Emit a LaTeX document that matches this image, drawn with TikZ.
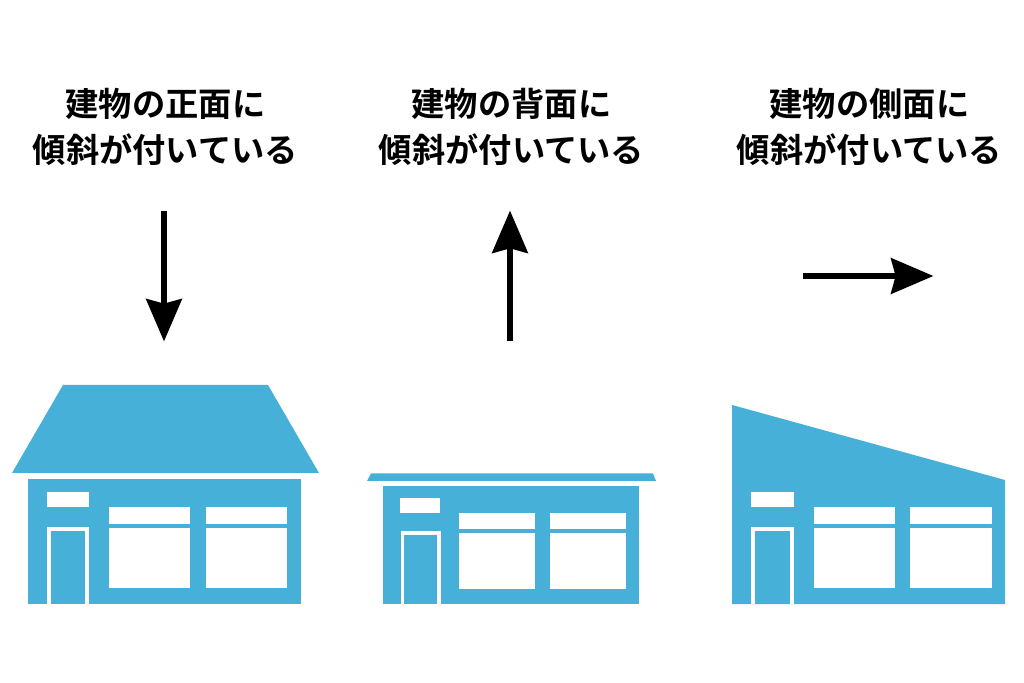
\documentclass[tikz,border=0pt]{standalone}
\usepackage{fontspec}
\setmainfont{Noto Sans CJK JP Bold}
\usetikzlibrary{arrows.meta,positioning}
\definecolor{housecol}{HTML}{47B0D9}
\tikzset{
  caption/.style={align=center,font=\fontsize{28.4}{39}\selectfont,inner sep=0pt},
  bigarrow/.style={line width=0.19cm,-{Stealth[length=1.27cm,width=1.06cm,inset=0.135cm]}},
  wall/.style={fill=housecol,draw=none},
  glass/.style={fill=white,draw=none}
}
\begin{document}
\begin{tikzpicture}[x=0.03cm,y=-0.03cm]
\useasboundingbox (0,0) rectangle (1024,683);
% captions
\node[caption] (T1) at (165.5,127) {建物の正面に\\傾斜が付いている};
\node[caption] (T2) at (511.5,127) {建物の背面に\\傾斜が付いている};
\node[caption] (T3) at (869.5,127) {建物の側面に\\傾斜が付いている};
% arrows
\coordinate (A1) at (164,211);
\coordinate (B1) at (164,341.5);
\coordinate (A2) at (510,341);
\coordinate (B2) at (510,210.5);
\coordinate (A3) at (803,276);
\coordinate (B3) at (933.5,276);
\draw[bigarrow] (A1) -- (B1);
\draw[bigarrow] (A2) -- (B2);
\draw[bigarrow] (A3) -- (B3);
% front
\fill[wall] (63,385) -- (268,385) -- (319,473) -- (12,473) -- cycle;
\fill[wall] (28,479) rectangle (301,604);
\fill[glass] (47,492) rectangle (89,507);
\fill[glass] (47,527) rectangle (89,604);
\fill[wall] (51,531) rectangle (85,604);
\foreach \x in {109,206} {
  \fill[glass] (\x,507) rectangle (\x+81,588);
  \fill[wall] (\x,524.5) rectangle (\x+81,528.5);
}
% back
\fill[wall] (371,473.5) -- (653,473.5) -- (656,481) -- (367,481) -- cycle;
\fill[wall] (382.5,486) rectangle (639,604);
\fill[glass] (400,498.5) rectangle (440,513);
\fill[glass] (400.5,531) rectangle (440.5,604);
\fill[wall] (404,535) rectangle (437,604);
\foreach \x in {459,550} {
  \fill[glass] (\x,513) rectangle (\x+76,589);
  \fill[wall] (\x,529) rectangle (\x+76,533);
}
% side
\fill[wall] (732,405) -- (1005,480) -- (1005,604) -- (732,604) -- cycle;
\fill[glass] (751,492) rectangle (793.5,507);
\fill[glass] (751,527) rectangle (793.5,604);
\fill[wall] (755,531) rectangle (790,604);
\foreach \x in {813.5,910} {
  \fill[glass] (\x,507) rectangle (\x+81.5,588);
  \fill[wall] (\x,524.5) rectangle (\x+81.5,528.5);
}
\end{tikzpicture}
\end{document}
